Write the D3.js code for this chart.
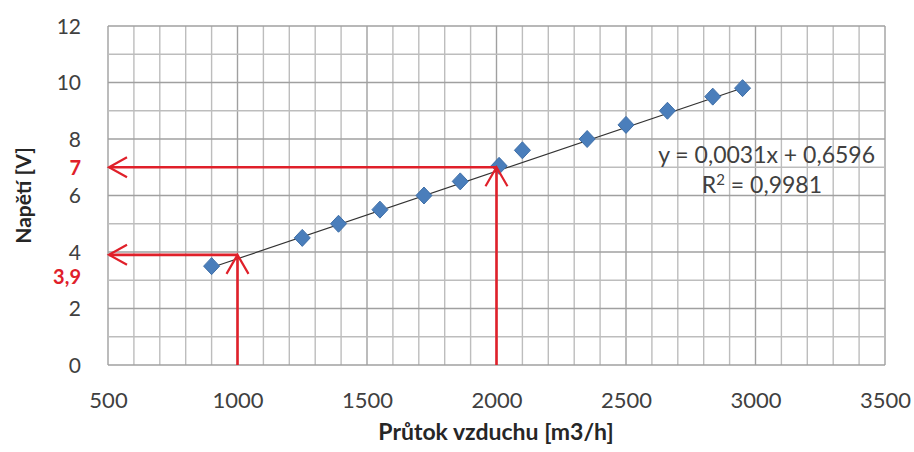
<!DOCTYPE html>
<html>
<head>
<meta charset="utf-8">
<script src="https://cdn.jsdelivr.net/npm/d3@7"></script>
<style>
  body { margin: 0; background: #fff; }
  svg { display: block; }
  text { font-family: Lato, "Open Sans", sans-serif; }
</style>
</head>
<body>
<svg id="chart" width="914" height="452"></svg>
<script>
// Data
const flow = [900, 1250, 1390, 1550, 1720, 1860, 2010, 2100, 2350, 2500, 2660, 2835, 2950];
const voltage = [3.5, 4.5, 5.0, 5.5, 6.0, 6.5, 7.05, 7.6, 8.0, 8.5, 9.0, 9.5, 9.8];
const slope = 0.0031, intercept = 0.6596;
const xTicks = [500, 1000, 1500, 2000, 2500, 3000, 3500];
const yTicks = [0, 2, 4, 6, 8, 10, 12];
const readX = [1000, 2000];
const readY = [3.9, 7];
const readLabels = ["3,9", "7"];
const eqText = "y = 0,0031x + 0,6596";
const r2Text = "0,9981";

const svg = d3.select("#chart");
const m = { left: 108, right: 29, top: 26, bottom: 87 };
const W = 914, H = 452;
const x = d3.scaleLinear().domain([500, 3500]).range([m.left, W - m.right]);
const y = d3.scaleLinear().domain([0, 12]).range([H - m.bottom, m.top]);

const g = svg.append("g");

// gridlines
g.append("g").selectAll("line").data(d3.range(500, 3501, 100)).join("line")
  .attr("x1", d => x(d)).attr("x2", d => x(d))
  .attr("y1", y(0)).attr("y2", y(12))
  .attr("stroke", d => d % 500 === 0 ? "#a0a0a0" : "#bdbdbd").attr("stroke-width", 1.4);
g.append("g").selectAll("line").data(d3.range(0, 12.01, 1)).join("line")
  .attr("x1", x(500)).attr("x2", x(3500))
  .attr("y1", d => y(d)).attr("y2", d => y(d))
  .attr("stroke", d => d % 2 === 0 ? "#a0a0a0" : "#bdbdbd").attr("stroke-width", d => d % 2 === 0 ? 1.7 : 1.4);

// axes labels
const xAxis = d3.axisBottom(x).tickValues(xTicks).tickFormat(d3.format("d")).tickSize(0).tickPadding(0);
const xg = g.append("g").attr("transform", `translate(0,${y(0)})`).call(xAxis);
xg.select(".domain").remove();
xg.selectAll("text").attr("dy", null).attr("y", 43)
  .attr("font-size", 22).attr("fill", "#404040").attr("font-family", "Lato, sans-serif");

const yAxis = d3.axisLeft(y).tickValues(yTicks).tickSize(0).tickPadding(0);
const yg = g.append("g").attr("transform", `translate(${m.left - 27},0)`).call(yAxis);
yg.select(".domain").remove();
yg.selectAll("text").attr("font-size", 21).attr("fill", "#404040").attr("dy", "0.35em")
  .attr("font-family", "Lato, sans-serif");

// titles
svg.append("text").attr("x", 496).attr("y", 440).attr("text-anchor", "middle")
  .attr("font-size", 23).attr("font-weight", "bold").attr("fill", "#262626")
  .text("Průtok vzduchu [m3/h]");
svg.append("text").attr("transform", `translate(31,${y(6)}) rotate(-90)`)
  .attr("text-anchor", "middle").attr("font-size", 21).attr("font-weight", "bold").attr("fill", "#262626")
  .text("Napětí [V]");

// trendline
const xr = d3.extent(flow);
g.append("line")
  .attr("x1", x(xr[0])).attr("y1", y(slope * xr[0] + intercept))
  .attr("x2", x(xr[1])).attr("y2", y(slope * xr[1] + intercept))
  .attr("stroke", "#333").attr("stroke-width", 1.2);

// points
const pts = flow.map((f, i) => [f, voltage[i]]);
g.append("g").selectAll("path").data(pts).join("path")
  .attr("transform", d => `translate(${x(d[0])},${y(d[1])})`)
  .attr("d", "M0,-8.5L8,0L0,8.5L-8,0Z")
  .attr("fill", "#4a7ebb").attr("stroke", "#3f6fa8").attr("stroke-width", 1);

// red reading arrows
const red = "#e0202a";
const ag = g.append("g").attr("stroke", red).attr("fill", "none").attr("stroke-width", 2.6);
readX.forEach((rx, i) => {
  const ry = readY[i];
  const px = x(rx), py = y(ry), x0 = x(500), y0 = y(0);
  ag.append("line").attr("x1", px).attr("y1", y0).attr("x2", px).attr("y2", py);
  ag.append("path").attr("d", `M${px - 11},${py + 19}L${px},${py}L${px + 11},${py + 19}`).attr("stroke-width", 2.2);
  ag.append("line").attr("x1", px).attr("y1", py).attr("x2", x0 + 1).attr("y2", py);
  ag.append("path").attr("d", `M${x0 + 19},${py - 10}L${x0 + 1},${py}L${x0 + 19},${py + 10}`).attr("stroke-width", 2.2);
});

// red labels
svg.append("g").selectAll("text").data(readY).join("text")
  .attr("x", m.left - 27).attr("y", (d, i) => y(d) + (i === 0 ? 22 : 1))
  .attr("dy", "0.35em").attr("text-anchor", "end")
  .attr("font-size", 20).attr("font-weight", "bold").attr("fill", red)
  .text((d, i) => readLabels[i]);

// equation
svg.append("text").attr("x", 875).attr("y", 163).attr("text-anchor", "end")
  .attr("font-size", 23).attr("fill", "#404040").text(eqText);
const r2 = svg.append("text").attr("x", 822).attr("y", 193).attr("text-anchor", "end")
  .attr("font-size", 23).attr("fill", "#404040");
r2.append("tspan").text("R");
r2.append("tspan").attr("dy", -8).attr("font-size", 15).text("2");
r2.append("tspan").attr("dy", 8).text(" = " + r2Text);
</script>
</body>
</html>
